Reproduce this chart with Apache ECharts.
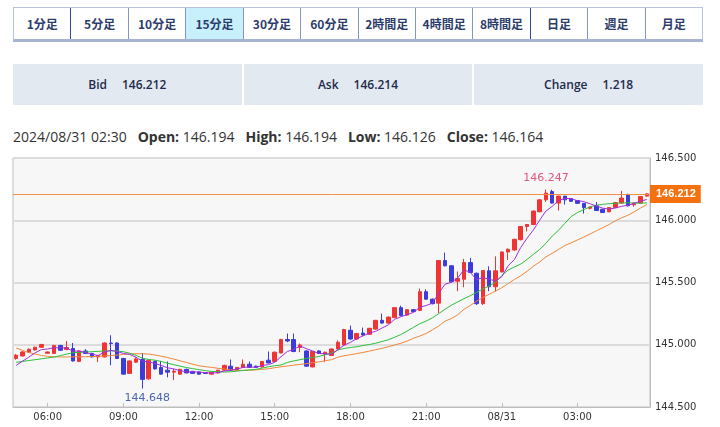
<!DOCTYPE html>
<html><head><meta charset="utf-8">
<script src="https://cdn.jsdelivr.net/npm/echarts@6/dist/echarts.min.js"></script>
<style>
html,body{margin:0;padding:0;background:#fff}
body{width:720px;height:427px;position:relative;overflow:hidden;font-family:"Open Sans","Noto Sans CJK JP",sans-serif}
.tabs{position:absolute;left:13px;top:7px;width:690px;height:35px;display:flex;box-sizing:border-box;border:1px solid #b7c3da;border-bottom:3px solid #a6b4cf}
.tab{flex:1;display:flex;align-items:center;justify-content:center;font-family:"Noto Sans CJK JP",sans-serif;font-weight:700;font-size:12px;color:#2c3d6b;border-left:1px solid #8697bf}
.tab:first-child{border-left:none}
.tab.dk{border-left:1px solid #2f4b92}
.tab.sel{background:#c8f0fc}
.panel{position:absolute;left:13px;top:64px;width:690px;height:41px;display:flex;gap:2px}
.cell{flex:1;background:#e3e9f0;display:flex;align-items:center;justify-content:center;font-weight:600;font-size:12px;color:#1e2b4c}
.cell span+span{margin-left:15px}
.hdr{position:absolute;left:13px;top:127px;line-height:20px;font-size:14px;color:#333;white-space:nowrap}
.hdr b{margin-left:11px;font-weight:700}
#chart{position:absolute;left:0;top:150px;width:720px;height:277px}
</style></head>
<body>
<div class="tabs">
<div class="tab">1分足</div><div class="tab dk">5分足</div><div class="tab">10分足</div><div class="tab sel">15分足</div><div class="tab">30分足</div><div class="tab">60分足</div><div class="tab">2時間足</div><div class="tab">4時間足</div><div class="tab">8時間足</div><div class="tab dk">日足</div><div class="tab">週足</div><div class="tab">月足</div>
</div>
<div class="panel">
<div class="cell"><span>Bid</span><span>146.212</span></div>
<div class="cell"><span>Ask</span><span>146.214</span></div>
<div class="cell"><span>Change</span><span>1.218</span></div>
</div>
<div class="hdr">2024/08/31 02:30<b>Open:</b> 146.194<b>High:</b> 146.194<b>Low:</b> 146.126<b>Close:</b> 146.164</div>
<div id="chart"></div>
<script>
const categories = [
"08/30 04:45",
"08/30 05:00","08/30 05:15","08/30 05:30","08/30 05:45",
"08/30 06:00","08/30 06:15","08/30 06:30","08/30 06:45",
"08/30 07:00","08/30 07:15","08/30 07:30","08/30 07:45",
"08/30 08:00","08/30 08:15","08/30 08:30","08/30 08:45",
"08/30 09:00","08/30 09:15","08/30 09:30","08/30 09:45",
"08/30 10:00","08/30 10:15","08/30 10:30","08/30 10:45",
"08/30 11:00","08/30 11:15","08/30 11:30","08/30 11:45",
"08/30 12:00","08/30 12:15","08/30 12:30","08/30 12:45",
"08/30 13:00","08/30 13:15","08/30 13:30","08/30 13:45",
"08/30 14:00","08/30 14:15","08/30 14:30","08/30 14:45",
"08/30 15:00","08/30 15:15","08/30 15:30","08/30 15:45",
"08/30 16:00","08/30 16:15","08/30 16:30","08/30 16:45",
"08/30 17:00","08/30 17:15","08/30 17:30","08/30 17:45",
"08/30 18:00","08/30 18:15","08/30 18:30","08/30 18:45",
"08/30 19:00","08/30 19:15","08/30 19:30","08/30 19:45",
"08/30 20:00","08/30 20:15","08/30 20:30","08/30 20:45",
"08/30 21:00","08/30 21:15","08/30 21:30","08/30 21:45",
"08/30 22:00","08/30 22:15","08/30 22:30","08/30 22:45",
"08/30 23:00","08/30 23:15","08/30 23:30","08/30 23:45",
"08/31 00:00","08/31 00:15","08/31 00:30","08/31 00:45",
"08/31 01:00","08/31 01:15","08/31 01:30","08/31 01:45",
"08/31 02:00","08/31 02:15","08/31 02:30","08/31 02:45",
"08/31 03:00","08/31 03:15","08/31 03:30","08/31 03:45",
"08/31 04:00","08/31 04:15","08/31 04:30","08/31 04:45",
"08/31 05:00","08/31 05:15","08/31 05:30","08/31 05:45"
];
const tickCats = ["08/30 06:00","08/30 09:00","08/30 12:00","08/30 15:00","08/30 18:00","08/30 21:00","08/31 00:00","08/31 03:00"];
const tickLabels = ["06:00","09:00","12:00","15:00","18:00","21:00","08/31","03:00"];

const opens = [
144.890,144.910,144.940,144.958,144.980,144.932,144.930,144.994,144.962,144.970,
144.866,144.950,144.930,144.902,144.902,145.014,145.014,144.890,144.770,144.860,
144.882,144.726,144.866,144.818,144.796,144.780,144.764,144.802,144.786,144.782,
144.774,144.764,144.774,144.796,144.828,144.796,144.818,144.844,144.828,144.822,
144.876,144.866,144.934,145.042,145.042,144.978,144.950,144.822,144.950,144.924,
144.914,144.966,144.998,145.116,145.046,145.094,145.084,145.126,145.196,145.174,
145.218,145.298,145.238,145.282,145.276,145.426,145.366,145.334,145.676,145.634,
145.510,145.526,145.660,145.574,145.330,145.594,145.466,145.585,145.745,145.761,
145.844,145.950,145.966,146.068,146.164,146.230,146.138,146.194,146.174,146.158,
146.136,146.096,146.116,146.088,146.068,146.102,146.138,146.204,146.124,146.138,
146.194];
const closes = [
144.916,144.942,144.964,144.980,145.002,144.942,144.994,144.956,144.978,144.870,
144.950,144.930,144.902,144.914,145.014,145.010,144.890,144.764,144.870,144.886,
144.722,144.876,144.806,144.764,144.780,144.788,144.802,144.774,144.770,144.764,
144.770,144.780,144.796,144.834,144.796,144.818,144.844,144.818,144.818,144.866,
144.854,144.940,145.042,145.030,144.946,144.998,144.828,144.946,144.930,144.940,
144.966,145.020,145.122,145.046,145.090,145.078,145.132,145.196,145.174,145.222,
145.298,145.234,145.282,145.266,145.426,145.366,145.330,145.676,145.634,145.506,
145.532,145.660,145.580,145.330,145.596,145.466,145.594,145.745,145.767,145.847,
145.950,145.966,146.074,146.164,146.218,146.138,146.194,146.164,146.152,146.136,
146.102,146.106,146.078,146.062,146.102,146.142,146.178,146.116,146.138,146.190,
146.212];
const lows = [
144.880,144.905,144.935,144.955,144.975,144.928,144.925,144.950,144.956,144.865,
144.860,144.925,144.898,144.860,144.898,144.836,144.885,144.760,144.765,144.855,
144.648,144.720,144.800,144.760,144.738,144.716,144.758,144.770,144.766,144.760,
144.766,144.760,144.770,144.790,144.790,144.790,144.814,144.814,144.814,144.818,
144.850,144.860,144.930,145.020,144.940,144.940,144.822,144.818,144.925,144.860,
144.910,144.960,144.994,145.040,145.040,145.074,145.080,145.120,145.170,145.170,
145.214,145.230,145.234,145.262,145.270,145.360,145.324,145.254,145.630,145.500,
145.430,145.462,145.575,145.320,145.320,145.430,145.428,145.580,145.681,145.755,
145.838,145.910,145.960,146.064,146.148,146.133,146.078,146.126,146.148,146.132,
146.054,146.088,146.074,146.058,146.064,146.098,146.134,146.112,146.108,146.134,
146.190];
const highs = [
144.925,144.950,144.970,144.985,145.008,144.946,145.000,145.000,145.030,145.014,
144.955,144.965,144.935,144.918,145.020,145.076,145.020,144.895,144.875,144.898,
144.934,144.882,144.872,144.870,144.866,144.806,144.808,144.808,144.790,144.786,
144.778,144.784,144.800,144.840,144.882,144.822,144.882,144.866,144.832,144.870,
144.946,144.946,145.048,145.090,145.090,145.010,144.955,144.950,144.955,144.945,
144.970,145.035,145.128,145.154,145.095,145.138,145.136,145.200,145.250,145.226,
145.302,145.314,145.286,145.286,145.452,145.446,145.372,145.680,145.740,145.640,
145.588,145.690,145.698,145.580,145.600,145.630,145.710,145.750,145.773,145.851,
145.954,145.970,146.078,146.168,146.247,146.244,146.198,146.194,146.178,146.162,
146.138,146.108,146.146,146.092,146.106,146.146,146.236,146.214,146.142,146.194,
146.216];
// short moving average (purple)
const maShort = [
144.834,144.868,144.900,144.935,144.961,144.966,144.976,144.975,144.974,144.948,
144.950,144.937,144.926,144.913,144.942,144.954,144.946,144.930,144.922,144.900,
144.868,144.862,144.850,144.834,144.815,144.806,144.792,144.782,144.783,144.780,
144.776,144.772,144.776,144.789,144.795,144.805,144.818,144.822,144.819,144.833,
144.840,144.859,144.904,144.946,144.962,144.991,144.969,144.950,144.930,144.928,
144.922,144.960,144.996,145.019,145.049,145.071,145.094,145.108,145.134,145.160,
145.204,145.225,145.242,145.260,145.301,145.315,145.334,145.413,145.486,145.502,
145.536,145.602,145.582,145.522,145.540,145.526,145.513,145.546,145.634,145.684,
145.781,145.855,145.921,146.000,146.074,146.112,146.158,146.176,146.173,146.157,
146.150,146.132,146.115,146.097,146.090,146.098,146.112,146.120,146.135,146.153,
146.167];
// middle moving average (green)
const maMid = [
144.859,144.866,144.873,144.880,144.887,144.894,144.901,144.913,144.925,144.936,
144.939,144.942,144.944,144.947,144.950,144.952,144.950,144.944,144.932,144.915,
144.892,144.882,144.876,144.866,144.852,144.840,144.828,144.817,144.808,144.800,
144.792,144.786,144.783,144.781,144.783,144.788,144.794,144.798,144.802,144.813,
144.823,144.832,144.837,144.858,144.870,144.880,144.890,144.897,144.906,144.920,
144.932,144.958,144.970,144.978,144.984,144.994,145.002,145.012,145.026,145.040,
145.060,145.082,145.110,145.140,145.169,145.190,145.216,145.250,145.285,145.317,
145.344,145.370,145.394,145.421,145.447,145.473,145.500,145.556,145.600,145.625,
145.648,145.685,145.725,145.765,145.815,145.873,145.920,145.975,146.030,146.062,
146.085,146.108,146.121,146.128,146.133,146.136,146.139,146.140,146.138,146.137,
146.140];
// long moving average (orange)
const maLong = [
144.974,144.955,144.938,144.925,144.914,144.907,144.903,144.902,144.902,144.903,
144.903,144.904,144.905,144.907,144.910,144.913,144.917,144.922,144.926,144.928,
144.928,144.925,144.918,144.908,144.897,144.885,144.871,144.858,144.844,144.831,
144.824,144.818,144.811,144.805,144.799,144.794,144.793,144.795,144.798,144.802,
144.807,144.816,144.823,144.829,144.836,144.842,144.848,144.856,144.862,144.872,
144.880,144.900,144.912,144.920,144.929,144.938,144.949,144.960,144.971,144.984,
144.998,145.012,145.030,145.052,145.070,145.090,145.120,145.150,145.190,145.210,
145.240,145.285,145.315,145.350,145.380,145.405,145.430,145.458,145.490,145.525,
145.553,145.590,145.630,145.665,145.706,145.735,145.765,145.797,145.818,145.842,
145.865,145.890,145.915,145.940,145.965,145.995,146.020,146.040,146.068,146.098,
146.126];
const bid = 146.212;
const highMark = {index: 84, value: 146.247};
const lowMark = {index: 20, value: 144.648};

const candleData = opens.map((o, i) => [o, closes[i], lows[i], highs[i]]);
const isTick = (i, v) => tickCats.indexOf(v) >= 0;

const chart = echarts.init(document.getElementById('chart'), null, {renderer: 'canvas'});
chart.setOption({
  animation: false,
  grid: {left: 13, right: 70, top: 8, bottom: 20, show: true, backgroundColor: '#f7f7f7',
         borderColor: '#bdbdbd', borderWidth: 1, containLabel: false, outerBoundsMode: 'none'},
  xAxis: {
    type: 'category', data: categories, boundaryGap: true,
    axisLine: {show: true, lineStyle: {color: '#bdbdbd'}},
    axisTick: {show: true, alignWithLabel: true, inside: true, length: 4, interval: isTick, lineStyle: {color: '#bdbdbd'}},
    axisLabel: {interval: isTick, formatter: v => tickLabels[tickCats.indexOf(v)] || '',
                color: '#333', fontSize: 10, fontFamily: 'DejaVu Sans', margin: 5, hideOverlap: false},
    splitLine: {show: false}
  },
  yAxis: {
    type: 'value', position: 'right', min: 144.5, max: 146.5, interval: 0.5, scale: true,
    axisLine: {show: true, lineStyle: {color: '#bdbdbd'}},
    axisTick: {show: false},
    axisLabel: {formatter: v => v.toFixed(3), color: '#333', fontSize: 10, fontFamily: 'DejaVu Sans', margin: 5,
                showMinLabel: true, showMaxLabel: true},
    splitLine: {show: true, lineStyle: {color: '#dcdcdc', width: 2}}
  },
  series: [
    {type: 'line', data: maLong, symbol: 'none', smooth: false, lineStyle: {color: '#f0883a', width: 1}, silent: true},
    {type: 'line', data: maMid, symbol: 'none', smooth: false, lineStyle: {color: '#2fbf3a', width: 1}, silent: true},
    {type: 'line', data: maShort, symbol: 'none', smooth: false, lineStyle: {color: '#a030e0', width: 1}, silent: true},
    {
      type: 'candlestick', data: candleData, barWidth: 4,
      itemStyle: {color: '#f03434', color0: '#3c3cd8', borderColor: '#f03434', borderColor0: '#3c3cd8', borderWidth: 1},
      markLine: {
        silent: true, symbol: 'none', animation: false,
        data: [{yAxis: bid}],
        lineStyle: {color: '#f39048', width: 1, type: 'solid'},
        label: {show: true, position: 'end', distance: 0, formatter: bid.toFixed(3),
                backgroundColor: '#f5700f', color: '#fff', fontWeight: 'bold', fontSize: 11,
                fontFamily: 'Liberation Sans', padding: [4, 5, 3, 6]}
      },
      markPoint: {
        symbol: 'circle', symbolSize: 0.1, silent: true, animation: false,
        data: [
          {coord: [categories[highMark.index], highMark.value], value: highMark.value,
           label: {show: true, formatter: highMark.value.toFixed(3), color: '#e0587c', fontSize: 11,
                   fontFamily: 'DejaVu Sans', offset: [0, -11]}},
          {coord: [categories[lowMark.index], lowMark.value], value: lowMark.value,
           label: {show: true, formatter: lowMark.value.toFixed(3), color: '#4a68b0', fontSize: 11,
                   fontFamily: 'DejaVu Sans', offset: [5, 10]}}
        ]
      }
    }
  ]
});
</script>
</body></html>
